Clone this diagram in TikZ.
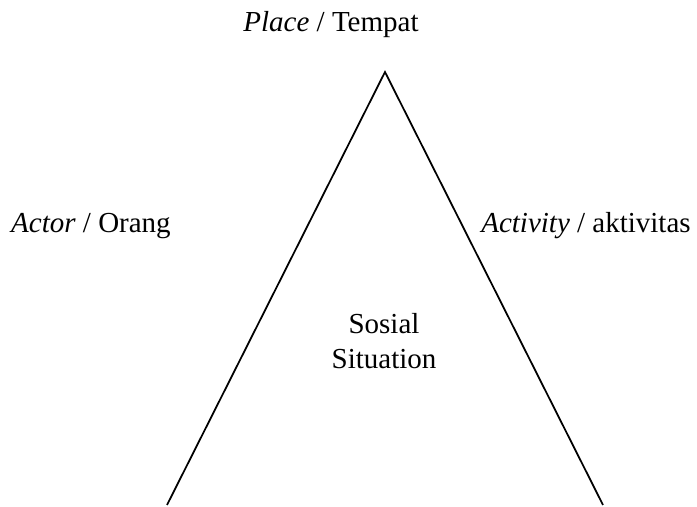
\documentclass[tikz,border=0pt]{standalone}
\usepackage{fontspec}
\setmainfont{Liberation Serif}
\usetikzlibrary{positioning}

\begin{document}
\begin{tikzpicture}
\def\s{16.5}
\def\b{19.9}
\def\w{1pt}
\tikzset{label text/.style={font=\fontsize{\s}{\b}\selectfont, inner sep=0pt}}
\useasboundingbox (0,0) rectangle (13.94,10.14);
%\draw[red] (0,0) rectangle (13.94,10.14);

\coordinate (puncak) at (7.70,8.70);
\coordinate (kiri)   at (3.34,0.04);
\coordinate (kanan)  at (12.06,0.04);

\node [label text, anchor=base, name=tempat]   at (6.62,9.50) {\textit{Place} / Tempat};
\node [label text, anchor=base, name=orang]    at (1.82,5.48) {\textit{Actor} / Orang};
\node [label text, anchor=base, name=aktivitas] at (11.72,5.48) {\textit{Activity} / aktivitas};
\node [label text, align=center, name=situasi] at (7.68,3.31) {Sosial\\Situation};

\draw [line width=\w](kiri) -- (puncak) -- (kanan);
\end{tikzpicture}
\end{document}
